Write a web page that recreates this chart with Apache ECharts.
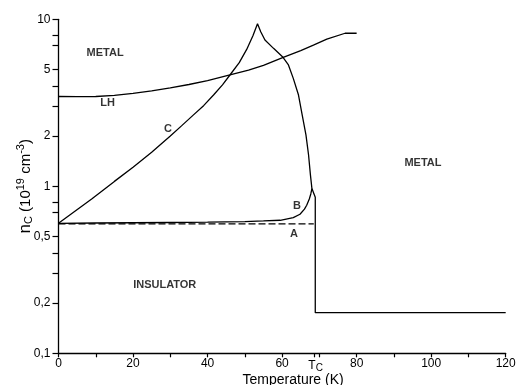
<!DOCTYPE html>
<html><head><meta charset="utf-8">
<script src="https://cdn.jsdelivr.net/npm/echarts@6/dist/echarts.min.js"></script>
<style>html,body{margin:0;padding:0;background:#fff}#c{width:518px;height:385px}</style>
</head><body><div id="c"></div>
<script>
// x = Temperature (K), y = n_c (10^19 cm^-3)
const curveLH = [[0,3.45],[5,3.44],[10,3.45],[15,3.5],[20,3.6],[25,3.73],[30,3.88],[35,4.07],[40,4.3],[46,4.64],[51,4.97],[55,5.3],[60.3,5.92],[65,6.5],[68.4,7.0],[72,7.6],[76.9,8.25],[80,8.25]];
const curveC = [[0,0.6],[8.9,0.84],[15,1.07],[20,1.3],[25,1.6],[30,2.0],[33,2.3],[36,2.65],[39,3.05],[41.6,3.52],[44,4.05],[46,4.64],[48.5,5.5],[50.5,6.6],[52.2,8.0],[53.4,9.4],[54.3,8.4],[55.4,7.52],[57.7,6.7],[60.1,5.97],[61.7,5.33],[63.0,4.43],[64.4,3.52],[65.4,2.67],[66.4,2.03],[67.1,1.54],[67.6,1.17],[68.0,0.97],[68.9,0.86],[68.9,0.175],[120,0.175]];
const curveB = [[0,0.6],[10,0.603],[20,0.605],[30,0.607],[40,0.61],[50,0.615],[55,0.62],[59.5,0.626],[63,0.65],[64.8,0.68],[66,0.73],[66.6,0.77],[67.3,0.84],[67.7,0.9],[68.0,0.97]];
const curveA = [[0,0.595],[68.5,0.595]];
const annotations = [
  {text:'METAL', x:12.5, y:6.3},
  {text:'LH', x:13.2, y:3.15},
  {text:'C', x:29.4, y:2.2},
  {text:'B', x:64, y:0.76},
  {text:'A', x:63.2, y:0.52},
  {text:'INSULATOR', x:28.5, y:0.255},
  {text:'METAL', x:97.8, y:1.37}
];
const xLabelValues = [0,20,40,60,69,80,100,120];
const xTickValues = [0,10,20,30,40,50,60,68.7,70,80,90,100,110,120];
const yLabelValues = [0.1,0.2,0.5,1,2,5,10];
const yTickValues = [0.1,0.2,0.3,0.4,0.5,0.7,0.8,1,2,3,4,5,7,8,10];

const font = 'Liberation Sans';
const ink = '#000';
const chart = echarts.init(document.getElementById('c'));
const lineSeries = (data, dashed) => ({
  type:'line', data, showSymbol:false, symbol:'none', smooth:false, silent:true,
  lineStyle:{color:ink, width:1.3, type: dashed ? [7,3] : 'solid'}
});
chart.setOption({
  animation:false,
  backgroundColor:'#fff',
  grid:{left:58.5, right:12.3, top:19.3, bottom:31.7, containLabel:false, outerBoundsMode:'none'},
  xAxis:{
    type:'value', min:0, max:120,
    name:'Temperature (K)', nameLocation:'middle', nameGap:20, nameMoveOverlap:false,
    nameTextStyle:{fontFamily:font, fontSize:14, color:ink, padding:[0,0,0,22]},
    axisLine:{lineStyle:{color:ink, width:1.3}},
    axisTick:{customValues:xTickValues, length:4, lineStyle:{color:ink, width:1.2}},
    axisLabel:{customValues:xLabelValues, margin:4, fontFamily:font, fontSize:12, color:ink,
      formatter:v => v===69 ? '{t|T}{c|C}' : String(v),
      rich:{t:{fontFamily:font, fontSize:12, color:ink}, c:{fontFamily:font, fontSize:10, color:ink, padding:[6,0,0,0]}}},
    splitLine:{show:false}
  },
  yAxis:{
    type:'log', logBase:10, min:0.1, max:10,
    name:'{n|n}{s|C} (10{p|19} cm{p|-3})', nameLocation:'middle', nameGap:23, nameMoveOverlap:false,
    nameTextStyle:{fontFamily:font, fontSize:15, color:ink,
      rich:{n:{fontFamily:font, fontSize:17, color:ink}, s:{fontFamily:font, fontSize:11, color:ink, padding:[7,0,0,0]},
            p:{fontFamily:font, fontSize:11, color:ink, padding:[0,0,9,0]}}},
    axisLine:{show:true, lineStyle:{color:ink, width:1.3}},
    axisTick:{show:true, customValues:yTickValues, length:6, lineStyle:{color:ink, width:1.2}},
    axisLabel:{customValues:yLabelValues, margin:8, fontFamily:font, fontSize:12, color:ink,
      formatter:v => String(v).replace('.', ',')},
    splitLine:{show:false}, minorTick:{show:false}
  },
  series:[
    lineSeries(curveLH), lineSeries(curveC), lineSeries(curveB), lineSeries(curveA, true),
    {type:'scatter', symbolSize:0, silent:true,
     data: annotations.map(a => ({value:[a.x, a.y], name:a.text})),
     label:{show:true, position:'inside', formatter:p => p.name, fontFamily:font, fontWeight:'bold', fontSize:11, color:ink}}
  ]
});
</script></body></html>
